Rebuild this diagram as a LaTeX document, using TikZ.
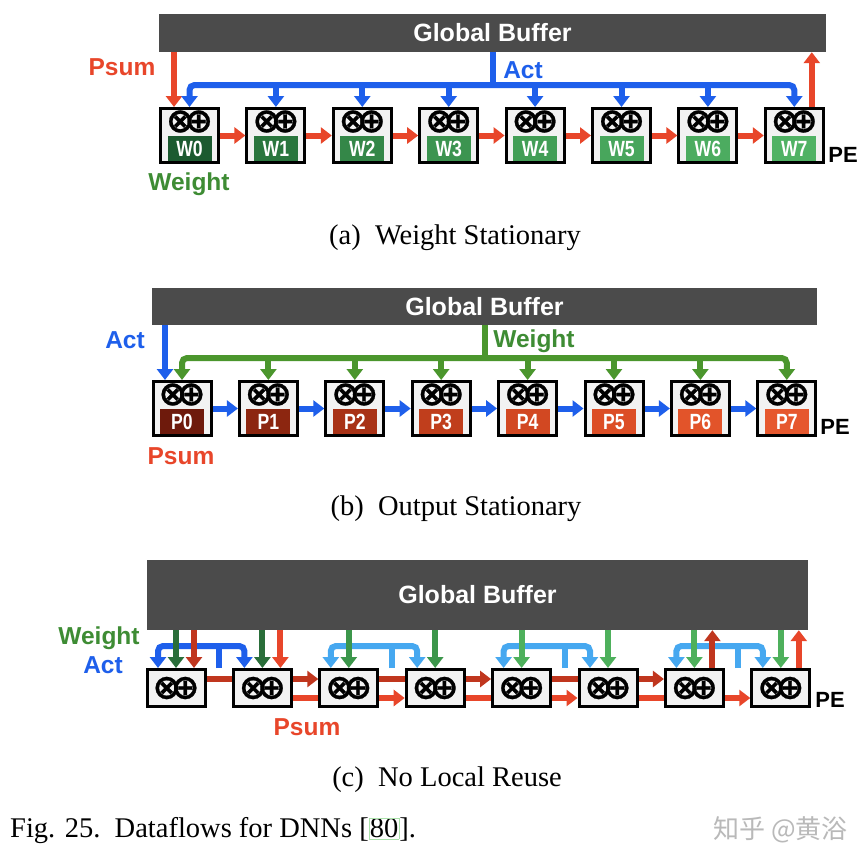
\documentclass[tikz,border=0pt]{standalone}
\usepackage{graphicx}
\usepackage{fontspec}
\setmainfont{Liberation Serif}
\setsansfont{Liberation Sans}
\newfontfamily\cjkfont{Noto Sans CJK SC}
\newfontfamily\symfont[FakeBold=0.7]{DejaVu Sans}
\usetikzlibrary{positioning,arrows.meta,backgrounds,calc}

\definecolor{bufgray}{RGB}{75,75,75}
\definecolor{pefill}{RGB}{242,242,242}
\definecolor{psumred}{RGB}{232,70,42}
\definecolor{psumdark}{RGB}{192,54,30}
\definecolor{actblue}{RGB}{30,95,235}
\definecolor{actlight}{RGB}{70,168,240}
\definecolor{wgtgreen}{RGB}{62,140,52}
\definecolor{wgtline}{RGB}{75,150,45}
\definecolor{wgtdark}{RGB}{42,110,58}
\definecolor{wgtmid}{RGB}{60,150,75}
\definecolor{wgtlight}{RGB}{78,176,92}
\definecolor{linkgreen}{RGB}{170,225,170}
\definecolor{wmgray}{RGB}{185,185,185}
\definecolor{wgt0}{RGB}{28,90,48}
\definecolor{wgt1}{RGB}{42,118,62}
\definecolor{wgt2}{RGB}{52,135,72}
\definecolor{wgt3}{RGB}{60,148,80}
\definecolor{wgt4}{RGB}{66,158,86}
\definecolor{wgt5}{RGB}{72,166,92}
\definecolor{wgt6}{RGB}{76,172,96}
\definecolor{wgt7}{RGB}{80,178,100}
\definecolor{out0}{RGB}{110,26,12}
\definecolor{out1}{RGB}{140,38,16}
\definecolor{out2}{RGB}{168,50,22}
\definecolor{out3}{RGB}{192,62,28}
\definecolor{out4}{RGB}{210,72,34}
\definecolor{out5}{RGB}{220,78,38}
\definecolor{out6}{RGB}{226,84,42}
\definecolor{out7}{RGB}{230,88,46}

\newcommand{\macs}{{\symfont\fontsize{34}{34}\selectfont ⊗\kern-10pt⊕}}
\newcommand{\petag}[2]{{\fboxsep=0pt\colorbox{#1}{\makebox[44pt]{\rule[-4.6pt]{0pt}{25pt}\textcolor{white}{\scalebox{0.8}[1]{#2}}}}}}
\newcommand{\pecell}[2]{\vbox{\offinterlineskip\hbox to 44pt{\hss\macs\hss}\vskip 3pt\hbox{\petag{#1}{#2}}}}

\tikzset{gbuf/.style={fill=bufgray, text=white, inner sep=0pt, font=\sffamily\bfseries\fontsize{25}{25}\selectfont}}
\tikzset{pe/.style={draw=black, line width=3pt, fill=pefill, minimum width=58pt, minimum height=54pt, inner sep=0pt, font=\sffamily\bfseries\fontsize{22}{22}\selectfont}}
\tikzset{pebox/.style={pe, minimum height=37pt}}
\tikzset{lbl/.style={inner sep=0pt, font=\sffamily\bfseries\fontsize{24.5}{24.5}\selectfont}}
\tikzset{pelbl/.style={inner sep=0pt, font=\sffamily\bfseries\fontsize{22}{22}\selectfont}}
\tikzset{captext/.style={inner sep=0pt, font=\fontsize{28.5}{32}\selectfont}}
\tikzset{flow/.style={line width=6pt, ->}}
\tikzset{bus/.style={line width=6pt, rounded corners=5pt}}

\begin{document}
\begin{tikzpicture}[x=1pt, y=-1pt, node distance=25.4pt, >={Triangle[width=16pt,length=11pt]}]
  \begin{scope}[on background layer]
    \fill[white] (0,0) rectangle (868,868);
  \end{scope}
  \useasboundingbox (0,0) rectangle (868,868);

  % (a) weight stationary
  \node[gbuf, minimum width=667pt, minimum height=38pt] (gba) at (492.5,33) {Global Buffer};
  \node[pe] (ws0) at (189.5,135.5) {\pecell{wgt0}{W0}};
  \node[pe, right=of ws0] (ws1) {\pecell{wgt1}{W1}};
  \node[pe, right=of ws1] (ws2) {\pecell{wgt2}{W2}};
  \node[pe, right=of ws2] (ws3) {\pecell{wgt3}{W3}};
  \node[pe, right=of ws3] (ws4) {\pecell{wgt4}{W4}};
  \node[pe, right=of ws4] (ws5) {\pecell{wgt5}{W5}};
  \node[pe, right=of ws5] (ws6) {\pecell{wgt6}{W6}};
  \node[pe, right=of ws6] (ws7) {\pecell{wgt7}{W7}};

  \node[lbl, text=psumred] (psa) at (122,67) {Psum};
  \node[lbl, text=actblue] (acta) at (523,70) {Act};
  \node[lbl, text=wgtgreen] (wta) at (189,184) {Weight};
  \node[pelbl] (pea) at (843,155) {PE};

  \coordinate (pina) at ([xshift=-15.5pt]ws0.north);
  \coordinate (pouta) at ([xshift=17.5pt]ws7.north);
  \coordinate (abus) at ([yshift=22pt]ws0.north);
  \draw[flow, psumred] (pina |- gba.south) -- (pina);
  \draw[flow, psumred] (pouta) -- (pouta |- gba.south);
  \draw[bus, actblue] (gba.south) -- (gba.south |- abus);
  \draw[bus, actblue, <->] (ws0.north) -- (abus) -- (abus -| ws7.north) -- (ws7.north);
  \draw[flow, actblue] (abus -| ws1.north) -- (ws1.north);
  \draw[flow, actblue] (abus -| ws2.north) -- (ws2.north);
  \draw[flow, actblue] (abus -| ws3.north) -- (ws3.north);
  \draw[flow, actblue] (abus -| ws4.north) -- (ws4.north);
  \draw[flow, actblue] (abus -| ws5.north) -- (ws5.north);
  \draw[flow, actblue] (abus -| ws6.north) -- (ws6.north);

  \path (ws0) edge[flow, psumred] (ws1);
  \path (ws1) edge[flow, psumred] (ws2);
  \path (ws2) edge[flow, psumred] (ws3);
  \path (ws3) edge[flow, psumred] (ws4);
  \path (ws4) edge[flow, psumred] (ws5);
  \path (ws5) edge[flow, psumred] (ws6);
  \path (ws6) edge[flow, psumred] (ws7);

  \node[captext] (capa) at (455,238) {(a)\enspace Weight Stationary};

  % (b) output stationary
  \node[gbuf, minimum width=665pt, minimum height=37pt] (gbb) at (484.5,306.5) {Global Buffer};
  \node[pe] (os0) at (182,408.5) {\pecell{out0}{P0}};
  \node[pe, right=of os0] (os1) {\pecell{out1}{P1}};
  \node[pe, right=of os1] (os2) {\pecell{out2}{P2}};
  \node[pe, right=of os2] (os3) {\pecell{out3}{P3}};
  \node[pe, right=of os3] (os4) {\pecell{out4}{P4}};
  \node[pe, right=of os4] (os5) {\pecell{out5}{P5}};
  \node[pe, right=of os5] (os6) {\pecell{out6}{P6}};
  \node[pe, right=of os6] (os7) {\pecell{out7}{P7}};

  \node[lbl, text=actblue] (actb) at (125,340) {Act};
  \node[lbl, text=wgtgreen] (wtb) at (534,341) {Weight};
  \node[lbl, text=psumred] (psb) at (181,456) {Psum};
  \node[pelbl] (peb) at (835,427) {PE};

  \coordinate (ainb) at ([xshift=-17pt]os0.north);
  \coordinate (wbus) at ([yshift=22pt]os0.north);
  \draw[flow, actblue] (ainb |- gbb.south) -- (ainb);
  \draw[bus, wgtline] (gbb.south) -- (gbb.south |- wbus);
  \draw[bus, wgtline, <->] (os0.north) -- (wbus) -- (wbus -| os7.north) -- (os7.north);
  \draw[flow, wgtline] (wbus -| os1.north) -- (os1.north);
  \draw[flow, wgtline] (wbus -| os2.north) -- (os2.north);
  \draw[flow, wgtline] (wbus -| os3.north) -- (os3.north);
  \draw[flow, wgtline] (wbus -| os4.north) -- (os4.north);
  \draw[flow, wgtline] (wbus -| os5.north) -- (os5.north);
  \draw[flow, wgtline] (wbus -| os6.north) -- (os6.north);

  \path (os0) edge[flow, actblue] (os1);
  \path (os1) edge[flow, actblue] (os2);
  \path (os2) edge[flow, actblue] (os3);
  \path (os3) edge[flow, actblue] (os4);
  \path (os4) edge[flow, actblue] (os5);
  \path (os5) edge[flow, actblue] (os6);
  \path (os6) edge[flow, actblue] (os7);

  \node[captext] (capb) at (456,509) {(b)\enspace Output Stationary};

  % (c) no local reuse
  \node[gbuf, minimum width=661pt, minimum height=70pt] (gbc) at (477.5,595) {Global Buffer};
  \node[pebox] (nr0) at (176,688) {\macs};
  \node[pebox, right=of nr0] (nr1) {\macs};
  \node[pebox, right=of nr1] (nr2) {\macs};
  \node[pebox, right=of nr2] (nr3) {\macs};
  \node[pebox, right=of nr3] (nr4) {\macs};
  \node[pebox, right=of nr4] (nr5) {\macs};
  \node[pebox, right=of nr5] (nr6) {\macs};
  \node[pebox, right=of nr6] (nr7) {\macs};

  \node[lbl, text=wgtgreen] (wtc) at (99,638) {Weight};
  \node[lbl, text=actblue] (actc) at (103,665) {Act};
  \node[lbl, text=psumred] (psc) at (307,727) {Psum};
  \node[pelbl] (pec) at (830,700) {PE};

  % act pairs
  \draw[bus, actblue] ($(nr0.north)!.5!(nr1.north)$ |- gbc.south) -- ([yshift=22pt]$(nr0.north)!.5!(nr1.north)$);
  \draw[bus, actblue, <->] ([xshift=-18pt]nr0.north) -- ([xshift=-18pt,yshift=22pt]nr0.north) -| ([xshift=-18pt]nr1.north);
  \draw[bus, actlight] ($(nr2.north)!.5!(nr3.north)$ |- gbc.south) -- ([yshift=22pt]$(nr2.north)!.5!(nr3.north)$);
  \draw[bus, actlight, <->] ([xshift=-18pt]nr2.north) -- ([xshift=-18pt,yshift=22pt]nr2.north) -| ([xshift=-18pt]nr3.north);
  \draw[bus, actlight] ($(nr4.north)!.5!(nr5.north)$ |- gbc.south) -- ([yshift=22pt]$(nr4.north)!.5!(nr5.north)$);
  \draw[bus, actlight, <->] ([xshift=-18pt]nr4.north) -- ([xshift=-18pt,yshift=22pt]nr4.north) -| ([xshift=-18pt]nr5.north);
  \draw[bus, actlight] ($(nr6.north)!.5!(nr7.north)$ |- gbc.south) -- ([yshift=22pt]$(nr6.north)!.5!(nr7.north)$);
  \draw[bus, actlight, <->] ([xshift=-18pt]nr6.north) -- ([xshift=-18pt,yshift=22pt]nr6.north) -| ([xshift=-18pt]nr7.north);

  % weights
  \draw[flow, wgtdark] (nr0.north |- gbc.south) -- (nr0.north);
  \draw[flow, wgtdark] (nr1.north |- gbc.south) -- (nr1.north);
  \draw[flow, wgtmid] (nr2.north |- gbc.south) -- (nr2.north);
  \draw[flow, wgtmid] (nr3.north |- gbc.south) -- (nr3.north);
  \draw[flow, wgtlight] (nr4.north |- gbc.south) -- (nr4.north);
  \draw[flow, wgtlight] (nr5.north |- gbc.south) -- (nr5.north);
  \draw[flow, wgtlight] (nr6.north |- gbc.south) -- (nr6.north);
  \draw[flow, wgtlight] (nr7.north |- gbc.south) -- (nr7.north);

  % psums in and out
  \coordinate (rin0) at ([xshift=18pt]nr0.north);
  \coordinate (rin1) at ([xshift=18pt]nr1.north);
  \coordinate (rout6) at ([xshift=18pt]nr6.north);
  \coordinate (rout7) at ([xshift=18pt]nr7.north);
  \draw[flow, psumdark] (rin0 |- gbc.south) -- (rin0);
  \draw[flow, psumred] (rin1 |- gbc.south) -- (rin1);
  \draw[flow, psumdark] (rout6) -- (rout6 |- gbc.south);
  \draw[flow, psumred] (rout7) -- (rout7 |- gbc.south);

  \begin{scope}[on background layer]
    \draw[flow, psumdark] ([yshift=9pt]nr0.east) -- ([yshift=9pt]nr2.west);
    \draw[flow, psumdark] ([yshift=9pt]nr2.east) -- ([yshift=9pt]nr4.west);
    \draw[flow, psumdark] ([yshift=9pt]nr4.east) -- ([yshift=9pt]nr6.west);
    \draw[flow, psumred] ([yshift=-10pt]nr1.east) -- ([yshift=-10pt]nr3.west);
    \draw[flow, psumred] ([yshift=-10pt]nr3.east) -- ([yshift=-10pt]nr5.west);
    \draw[flow, psumred] ([yshift=-10pt]nr5.east) -- ([yshift=-10pt]nr7.west);
  \end{scope}

  \node[captext] (capc) at (447,780) {(c)\enspace No Local Reuse};

  % figure caption
  \node[captext, anchor=west] (figcap) at (10,831) {Fig. 25.\enspace Dataflows for DNNs [{\fboxsep=0.5pt\fboxrule=0.6pt\fcolorbox{linkgreen}{white}{80}}].};
  \node[inner sep=0pt, anchor=east, text=wmgray, font=\cjkfont\fontsize{26}{26}\selectfont] (wmark) at (848,830) {知乎 @黄浴};
\end{tikzpicture}
\end{document}
